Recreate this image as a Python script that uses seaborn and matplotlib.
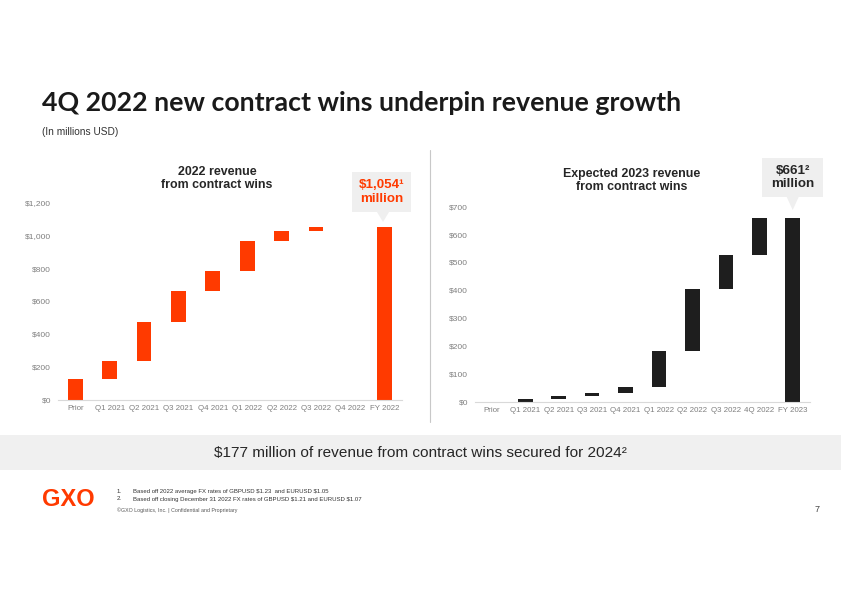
import matplotlib
matplotlib.use("Agg")
import matplotlib.pyplot as plt
import seaborn as sns
import numpy as np
import pandas as pd
from matplotlib.patches import Rectangle, Polygon
from matplotlib.ticker import FuncFormatter

# ---------------- data ----------------
left_categories = ["Prior", "Q1 2021", "Q2 2021", "Q3 2021", "Q4 2021",
                   "Q1 2022", "Q2 2022", "Q3 2022", "Q4 2022", "FY 2022"]
left_increments = [126, 110, 240, 185, 126, 179, 65, 20, 3]
left_total = 1054

right_categories = ["Prior", "Q1 2021", "Q2 2021", "Q3 2021", "Q4 2021",
                    "Q1 2022", "Q2 2022", "Q3 2022", "4Q 2022", "FY 2023"]
right_increments = [0, 9, 11, 11, 20, 130, 222, 124, 134]
right_total = 661

left_ticks = [0, 200, 400, 600, 800, 1000, 1200]
right_ticks = [0, 100, 200, 300, 400, 500, 600, 700]

ORANGE = "#FF3A00"
DARK = "#1E1E1E"
GRAY_TXT = "#7F7F7F"

sns.set_theme(style="white")
plt.rcParams["font.family"] = ["Liberation Sans", "DejaVu Sans"]

W, H = 841, 595
fig = plt.figure(figsize=(W / 100, H / 100), dpi=100)
fig.patch.set_facecolor("white")


def fx(x):
    return x / W


def fy(y):
    return 1 - y / H


def waterfall_frame(cats, incs, total):
    bottoms = list(np.concatenate([[0], np.cumsum(incs)[:-1]])) + [0]
    heights = list(incs) + [total]
    return pd.DataFrame({"cat": cats, "height": heights, "bottom": bottoms})


def style_axis(ax, ticks, ymax):
    ax.set_ylim(0, ymax)
    ax.set_xlim(-0.5, 9.5)
    ax.set_yticks(ticks)
    ax.yaxis.set_major_formatter(FuncFormatter(lambda v, p: f"${int(v):,}"))
    ax.tick_params(axis="both", length=0, labelsize=5.7, colors=GRAY_TXT, pad=3.5)
    ax.tick_params(axis="y", labelsize=6.0, pad=5)
    for s in ["top", "right", "left"]:
        ax.spines[s].set_visible(False)
    ax.spines["bottom"].set_color("#D9D9D9")
    ax.spines["bottom"].set_linewidth(0.8)
    ax.set_xlabel("")
    ax.set_ylabel("")
    ax.set_facecolor("none")


# ---------------- left chart ----------------
dfl = waterfall_frame(left_categories, left_increments, left_total)
axl = fig.add_axes([fx(58), fy(400), fx(402 - 58), (400 - 203) / H])
sns.barplot(data=dfl, x="cat", y="height", bottom=dfl["bottom"].values,
            color=ORANGE, saturation=1, width=0.43, ax=axl, linewidth=0)
style_axis(axl, left_ticks, 1200)

# ---------------- right chart ----------------
dfr = waterfall_frame(right_categories, right_increments, right_total)
axr = fig.add_axes([fx(475), fy(401.7), fx(809.5 - 475), (401.7 - 206.7) / H])
sns.barplot(data=dfr, x="cat", y="height", bottom=dfr["bottom"].values,
            color=DARK, saturation=1, width=0.44, ax=axr, linewidth=0)
style_axis(axr, right_ticks, 700)

# ---------------- titles ----------------
fig.text(fx(42), fy(103), "4Q 2022 new contract wins underpin revenue growth",
         fontsize=19.3, fontweight="bold", family=["Lato", "DejaVu Sans"],
         color="#1A1A1A", ha="left", va="center")
fig.text(fx(42), fy(132), "(In millions USD)", fontsize=7.3, color="#333333",
         ha="left", va="center")

fig.text(fx(217), fy(178.5), "2022 revenue\nfrom contract wins", fontsize=8.9,
         fontweight="bold", color="#262626", ha="center", va="center",
         linespacing=1.15)
fig.text(fx(632), fy(180.5), "Expected 2023 revenue\nfrom contract wins", fontsize=8.9,
         fontweight="bold", color="#262626", ha="center", va="center",
         linespacing=1.15)

# divider
fig.add_artist(plt.Line2D([fx(430), fx(430)], [fy(150), fy(422)],
                          color="#C8C8C8", linewidth=0.8))

# callout boxes
BOX = "#EFEFEF"


def callout(x0, y0, x1, y1, tipx, tipy, text, color):
    fig.add_artist(Rectangle((fx(x0), fy(y1)), fx(x1 - x0), (y1 - y0) / H,
                             transform=fig.transFigure, facecolor=BOX,
                             edgecolor="none"))
    fig.add_artist(Polygon([(fx(tipx - 6), fy(y1)), (fx(tipx + 6), fy(y1)),
                            (fx(tipx), fy(tipy))], closed=True,
                           transform=fig.transFigure, facecolor=BOX,
                           edgecolor="none"))
    fig.text(fx((x0 + x1) / 2), fy((y0 + y1) / 2), text, fontsize=9.6,
             fontweight="bold", color=color, ha="center", va="center",
             linespacing=1.15)


callout(352, 172, 411, 212, 383, 222, "$1,054\u00b9\nmillion", ORANGE)
callout(762, 158, 823, 197, 792.7, 210, "$661\u00b2\nmillion", "#262626")

# banner
fig.add_artist(Rectangle((0, fy(470)), 1, (470 - 435) / H,
                         transform=fig.transFigure, facecolor="#F0F0F0",
                         edgecolor="none"))
fig.text(0.5, fy(452.5),
         "$177 million of revenue from contract wins secured for 2024\u00b2",
         fontsize=11.1, color="#262626", ha="center", va="center")

# footer
fig.text(fx(42), fy(500), "GXO", fontsize=17, fontweight="bold", color=ORANGE,
         ha="left", va="center")
fig.text(fx(117), fy(491.5), "1.", fontsize=4.3, color="#333333", va="center")
fig.text(fx(133), fy(491.5), r"Based off 2022 average FX rates of GBPUSD \$1.23  and EURUSD \$1.05",
         fontsize=4.3, color="#333333", va="center")
fig.text(fx(117), fy(499), "2.", fontsize=4.3, color="#333333", va="center")
fig.text(fx(133), fy(499), r"Based off closing December 31 2022 FX rates of GBPUSD \$1.21 and EURUSD \$1.07",
         fontsize=4.3, color="#333333", va="center")
fig.text(fx(117), fy(510.5), "\u00a9GXO Logistics, Inc. | Confidential and Proprietary",
         fontsize=3.8, color="#555555", va="center")
fig.text(fx(815), fy(509), "7", fontsize=6.5, color="#444444", va="center")

fig.savefig("out.png", dpi=100)
